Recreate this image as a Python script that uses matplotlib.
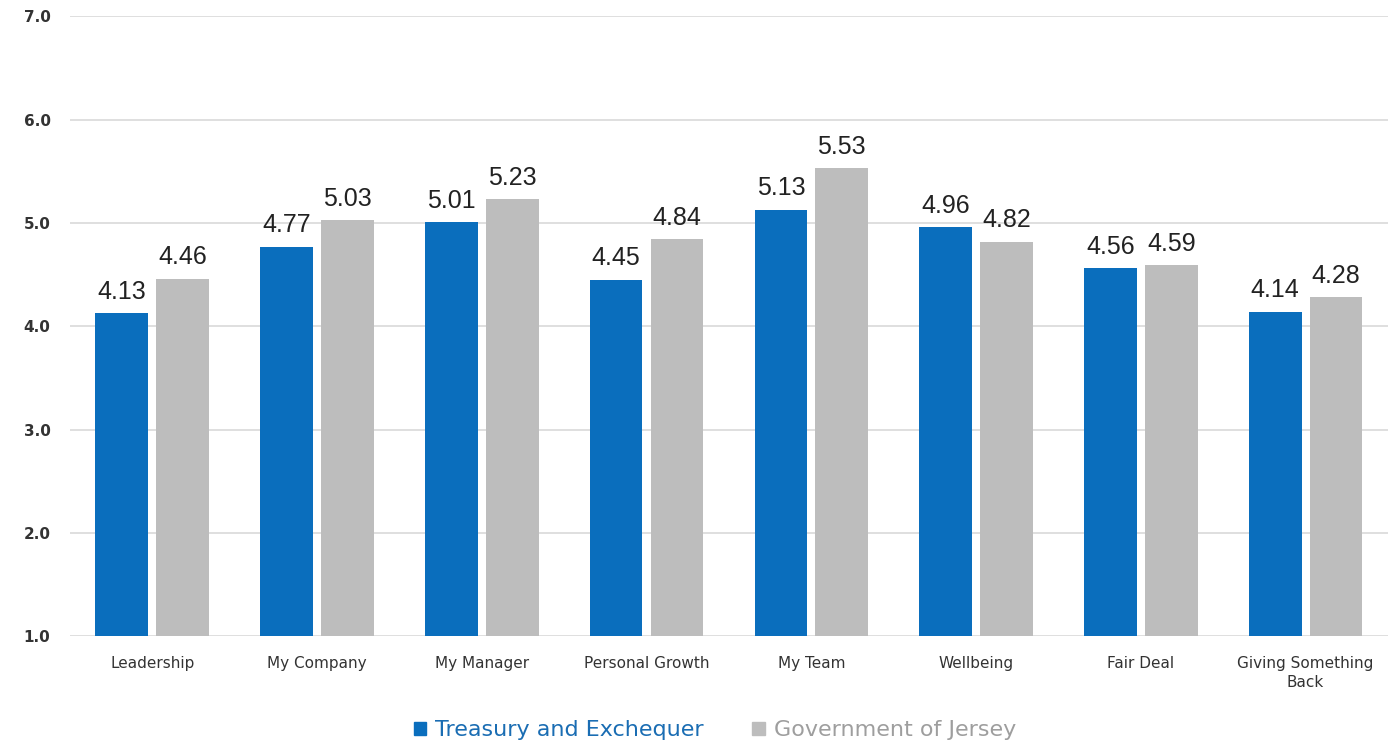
import matplotlib
matplotlib.use("Agg")
import matplotlib.pyplot as plt
import numpy as np
from matplotlib.patches import Patch

categories = ["Leadership", "My Company", "My Manager", "Personal Growth",
              "My Team", "Wellbeing", "Fair Deal", "Giving Something\nBack"]
treasury = [4.13, 4.77, 5.01, 4.45, 5.13, 4.96, 4.56, 4.14]
government = [4.46, 5.03, 5.23, 4.84, 5.53, 4.82, 4.59, 4.28]
series_names = ["Treasury and Exchequer", "Government of Jersey"]
yticks = [1.0, 2.0, 3.0, 4.0, 5.0, 6.0, 7.0]

BLUE = "#0A6EBD"
GREY = "#BDBDBD"

fig = plt.figure(figsize=(13.88, 7.44), dpi=100)
ax = fig.add_axes([0.0504, 0.145, 0.9496, 0.833])

x = np.arange(len(categories))
width = 0.32
off = 0.185
b1 = ax.bar(x - off, treasury, width, bottom=0, color=BLUE, zorder=3)
b2 = ax.bar(x + off, government, width, bottom=0, color=GREY, zorder=3)

for bars, vals in ((b1, treasury), (b2, government)):
    for r, v in zip(bars, vals):
        ax.text(r.get_x() + r.get_width() / 2, v + 0.09, f"{v:.2f}",
                ha="center", va="bottom", fontsize=18, color="#222222",
                family="Liberation Sans")

ax.set_ylim(1.0, 7.0)
ax.set_xlim(-0.5, len(categories) - 0.5)
ax.set_yticks(yticks)
ax.set_yticklabels([f"{t:.1f}" for t in yticks], family="DejaVu Sans",
                   fontsize=11, fontweight="bold", color="#333333")
ax.set_xticks(x)
ax.set_xticklabels(categories, family="DejaVu Sans", fontsize=11, color="#333333",
                   linespacing=1.35)
ax.tick_params(axis="both", length=0)
ax.tick_params(axis="y", pad=14)
ax.tick_params(axis="x", pad=14)
ax.grid(axis="y", color="#D9D9D9", linewidth=1.2, zorder=0)
for s in ax.spines.values():
    s.set_visible(False)

handles = [Patch(color=BLUE), Patch(color=GREY)]
fig.legend(handles, series_names, loc="lower center", bbox_to_anchor=(0.515, -0.022),
           ncol=2, frameon=False, handlelength=0.55, handleheight=0.55,
           handletextpad=0.4, columnspacing=2.2,
           labelcolor=["#1A6DB3", "#9E9E9E"],
           prop={"family": "DejaVu Sans", "size": 16})

fig.savefig("out.png", dpi=100)
